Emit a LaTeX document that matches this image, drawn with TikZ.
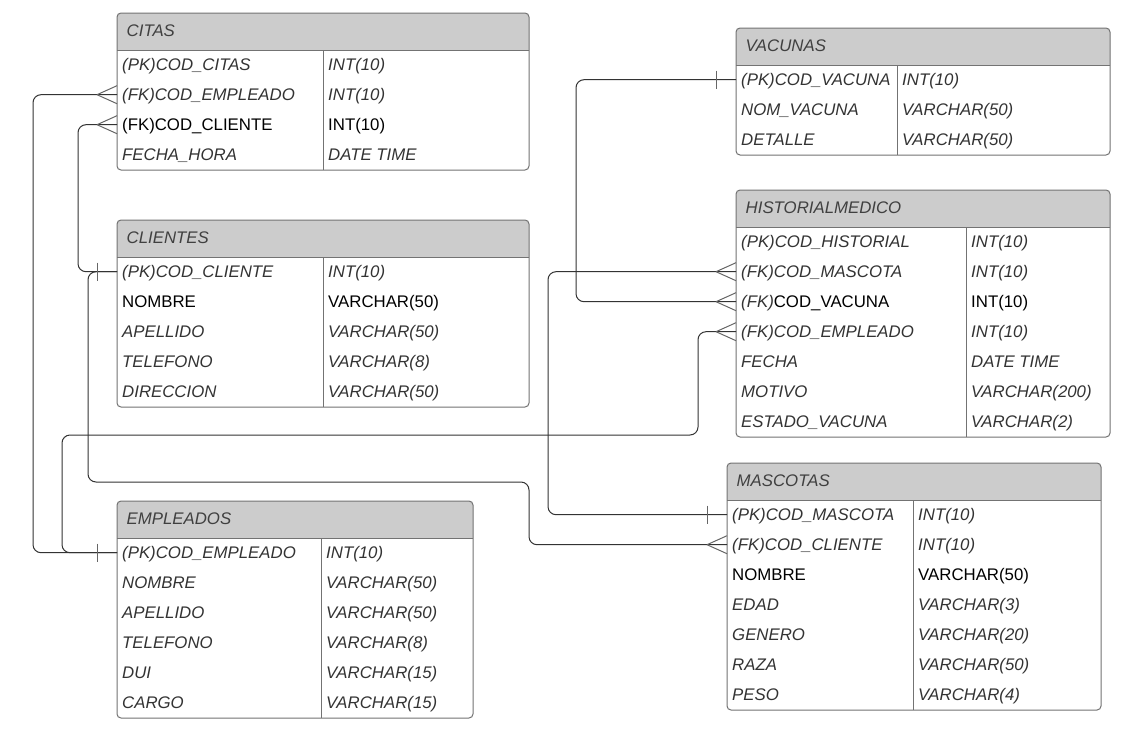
\documentclass[tikz,border=0pt]{standalone}
\usepackage{fontspec}
\setmainfont{Liberation Sans}
\newcommand\erfont{\fontsize{16.8pt}{19pt}\selectfont}
\newcommand\erplain[1]{{\upshape\color{black}#1}}

% table frame: #1 id, #2 left, #3 top, #4 right, #5 column divider, #6 rows, #7 title
\newcommand\ertable[7]{%
  \pgfmathsetmacro\erL{#2}\pgfmathsetmacro\erD{#5}%
  \pgfmathsetmacro\erH{#3+37}\pgfmathsetmacro\erB{#3+37+30*#6}%
  \begin{scope}
    \clip (#2,#3) rectangle (#4,\erH);
    \fill[hdrfill, rounded corners=4pt] (#2,#3) rectangle (#4,\erB);
  \end{scope}
  \draw[tblline] (#2,\erH) -- (#4,\erH) (#5,\erH) -- (#5,\erB);
  \draw[tblline, rounded corners=4pt] (#2,#3) rectangle (#4,\erB);
  \node[titletext] (#1) at (#2+9.5,#3+18) {#7};
}
% one row of the last table: #1 id, #2 index, #3 field, #4 type
\newcommand\errow[4]{%
  \pgfmathsetmacro\erY{\erH+30*#2-15.3}%
  \node[fieldtext] (#1-#2) at (\erL,\erY) {#3};
  \node[fieldtext] (#1-#2-t) at (\erD,\erY) {#4};
}
% "many" end and "one" end of a relation
\newcommand\erfoot[1]{\draw[footline] ([xshift=-20pt]#1) -- ([yshift=9pt]#1) ([xshift=-20pt]#1) -- ([yshift=-9pt]#1);}
\newcommand\erbar[1]{\draw[footline] ([xshift=-20pt,yshift=9pt]#1) -- ([xshift=-20pt,yshift=-9pt]#1);}

\begin{document}
\begin{tikzpicture}[x=1pt,y=-1pt,
  tblline/.style={draw=black!55, line width=1pt},
  hdrfill/.style={fill=black!20},
  conn/.style={draw=black!80, line width=1pt, rounded corners=8pt},
  footline/.style={draw=black!60, line width=1pt},
  titletext/.style={anchor=west, inner sep=0pt, font=\erfont\itshape, text=black!75,
    text height=13.8pt, text depth=2pt},
  fieldtext/.style={anchor=west, inner xsep=5pt, inner ysep=0pt, font=\erfont\itshape,
    text=black!80, text height=13.8pt, text depth=2pt},
]
\fill[white] (0,0) rectangle (1131,736);
\useasboundingbox (0,0) rectangle (1131,736);

% ---------- tables ----------
\ertable{citas}{117}{13}{529}{323}{4}{CITAS}
\errow{citas}{1}{(PK)COD\_CITAS}{INT(10)}
\errow{citas}{2}{(FK)COD\_EMPLEADO}{INT(10)}
\errow{citas}{3}{\erplain{(FK)COD\_CLIENTE}}{\erplain{INT(10)}}
\errow{citas}{4}{FECHA\_HORA}{DATE TIME}

\ertable{clientes}{117}{220}{529}{323}{5}{CLIENTES}
\errow{clientes}{1}{(PK)COD\_CLIENTE}{INT(10)}
\errow{clientes}{2}{\erplain{NOMBRE}}{\erplain{VARCHAR(50)}}
\errow{clientes}{3}{APELLIDO}{VARCHAR(50)}
\errow{clientes}{4}{TELEFONO}{VARCHAR(8)}
\errow{clientes}{5}{DIRECCION}{VARCHAR(50)}

\ertable{empleados}{117}{501}{473}{321}{6}{EMPLEADOS}
\errow{empleados}{1}{(PK)COD\_EMPLEADO}{INT(10)}
\errow{empleados}{2}{NOMBRE}{VARCHAR(50)}
\errow{empleados}{3}{APELLIDO}{VARCHAR(50)}
\errow{empleados}{4}{TELEFONO}{VARCHAR(8)}
\errow{empleados}{5}{DUI}{VARCHAR(15)}
\errow{empleados}{6}{CARGO}{VARCHAR(15)}

\ertable{vacunas}{736}{28}{1110}{897}{3}{VACUNAS}
\errow{vacunas}{1}{(PK)COD\_VACUNA}{INT(10)}
\errow{vacunas}{2}{NOM\_VACUNA}{VARCHAR(50)}
\errow{vacunas}{3}{DETALLE}{VARCHAR(50)}

\ertable{historial}{736}{190}{1110}{966}{7}{HISTORIALMEDICO}
\errow{historial}{1}{(PK)COD\_HISTORIAL}{INT(10)}
\errow{historial}{2}{(FK)COD\_MASCOTA}{INT(10)}
\errow{historial}{3}{(FK)\erplain{COD\_VACUNA}}{\erplain{INT(10)}}
\errow{historial}{4}{(FK)COD\_EMPLEADO}{INT(10)}
\errow{historial}{5}{FECHA}{DATE TIME}
\errow{historial}{6}{MOTIVO}{VARCHAR(200)}
\errow{historial}{7}{ESTADO\_VACUNA}{VARCHAR(2)}

\ertable{mascotas}{727}{463}{1101}{913}{7}{MASCOTAS}
\errow{mascotas}{1}{(PK)COD\_MASCOTA}{INT(10)}
\errow{mascotas}{2}{(FK)COD\_CLIENTE}{INT(10)}
\errow{mascotas}{3}{\erplain{NOMBRE}}{\erplain{VARCHAR(50)}}
\errow{mascotas}{4}{EDAD}{VARCHAR(3)}
\errow{mascotas}{5}{GENERO}{VARCHAR(20)}
\errow{mascotas}{6}{RAZA}{VARCHAR(50)}
\errow{mascotas}{7}{PESO}{VARCHAR(4)}

% ---------- relations ----------
\draw[conn] (citas-2.west) -| ([xshift=-84pt]empleados-1.west) -- (empleados-1.west);
\draw[conn] (citas-3.west) -| ([xshift=-39pt]clientes-1.west) -- (clientes-1.west);
\draw[conn] (clientes-1.west) -| (88,482) -| ([xshift=-198pt]mascotas-2.west) -- (mascotas-2.west);
\draw[conn] (empleados-1.west) -| (62,435) -| ([xshift=-38pt]historial-4.west) -- (historial-4.west);
\draw[conn] (vacunas-1.west) -| ([xshift=-160pt]historial-3.west) -- (historial-3.west);
\draw[conn] (mascotas-1.west) -| ([xshift=-188pt]historial-2.west) -- (historial-2.west);

\erfoot{citas-2.west}
\erfoot{citas-3.west}
\erfoot{historial-2.west}
\erfoot{historial-3.west}
\erfoot{historial-4.west}
\erfoot{mascotas-2.west}
\erbar{empleados-1.west}
\erbar{clientes-1.west}
\erbar{vacunas-1.west}
\erbar{mascotas-1.west}
\end{tikzpicture}
\end{document}
